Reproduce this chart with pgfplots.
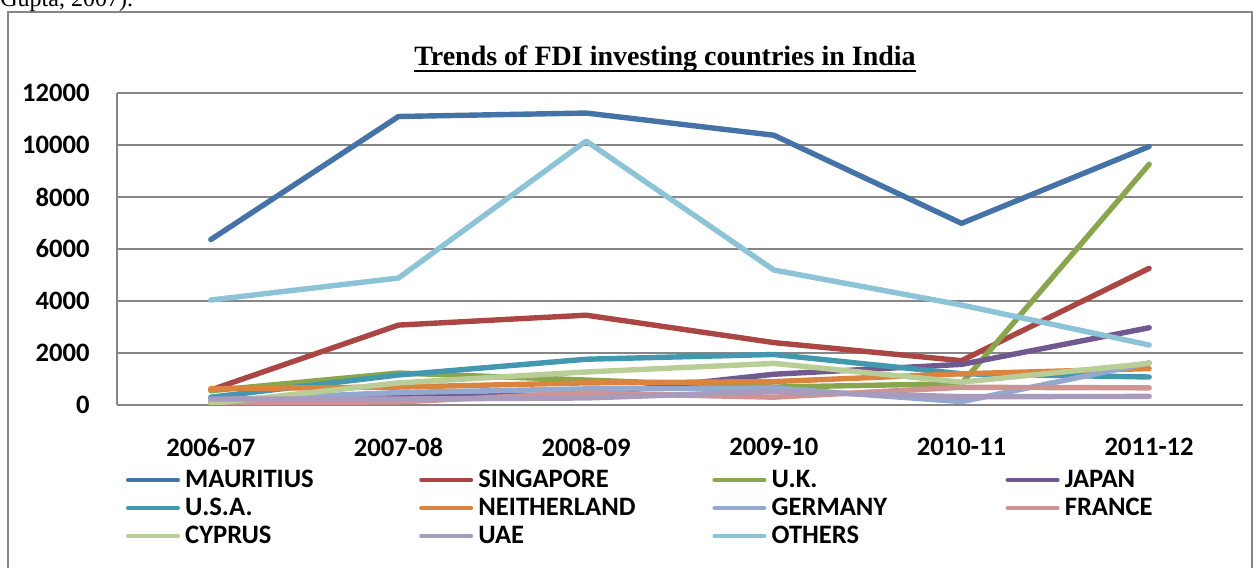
\documentclass[border=0pt]{standalone}
\usepackage{fontspec}
\setmainfont{Carlito}
\newfontfamily\timesfont{Liberation Serif}
\usepackage{pgfplots}
\usepackage{pgfplotstable}
\pgfplotsset{compat=1.18}
\definecolor{cmau}{RGB}{69,114,167}
\definecolor{csin}{RGB}{170,70,67}
\definecolor{cuk}{RGB}{137,165,78}
\definecolor{cjap}{RGB}{113,88,143}
\definecolor{cusa}{RGB}{65,152,175}
\definecolor{cnet}{RGB}{219,132,61}
\definecolor{cger}{RGB}{147,169,207}
\definecolor{cfra}{RGB}{209,147,146}
\definecolor{ccyp}{RGB}{185,205,150}
\definecolor{cuae}{RGB}{169,155,189}
\definecolor{coth}{RGB}{140,195,215}
\definecolor{framegray}{RGB}{134,134,134}
\pgfplotstableread{
x mau sin uk jap usa net ger fra cyp uae oth
0 6363 578 550 85 300 630 180 80 60 230 4038
1 11096 3073 1230 300 1154 690 480 120 850 230 4884
2 11229 3454 960 400 1760 850 620 460 1270 270 10153
3 10376 2400 690 1183 1943 900 650 300 1600 520 5192
4 6987 1705 820 1562 1200 1200 130 680 880 320 3846
5 9942 5257 9257 2972 1077 1400 1620 660 1600 330 2308
}\data
\newcommand{\legtxt}[1]{\makebox[117pt][l]{#1}}
\begin{document}
\begin{tikzpicture}
\useasboundingbox (0pt,0pt) rectangle (628.5pt,283.5pt);
\draw[line width=1pt, color=framegray] (4pt,-2pt) -- (4pt,277.5pt) -- (626pt,277.5pt) -- (626pt,-2pt);
\node[anchor=base west, inner sep=0pt, font=\timesfont\fontsize{12}{14}\selectfont] at (0pt,280pt) {Gupta, 2007).};
\node[anchor=base, inner sep=0pt, font=\timesfont\bfseries\fontsize{14}{16}\selectfont] (t) at (332.5pt,250.5pt) {Trends of FDI investing countries in India};
\draw[line width=1pt] ([yshift=-2.5pt]t.base west) -- ([yshift=-2.5pt]t.base east);
\begin{axis}[
  at={(58.5pt,81pt)}, anchor=south west, scale only axis,
  width=563pt, height=156pt,
  xmin=-0.5, xmax=5.5, ymin=0, ymax=12000,
  xtick={0,1,2,3,4,5},
  xticklabels={2006-07,2007-08,2008-09,2009-10,2010-11,2011-12},
  ytick={0,2000,4000,6000,8000,10000,12000},
  scaled y ticks=false,
  ymajorgrids, grid style={line width=1pt, color=framegray},
  axis x line*=bottom, axis y line*=left,
  axis line style={line width=1pt, color=framegray},
  major tick length=0pt,
  ticklabel style={font=\bfseries\fontsize{13.3}{15}\selectfont},
  yticklabel style={inner sep=0pt, xshift=-13.5pt},
  xticklabel style={inner sep=0pt, yshift=-16.5pt},
  /pgf/number format/.cd, 1000 sep={}, assume math mode=true, /pgfplots/.cd,
  legend columns=4,
  legend cell align=left,
  legend style={draw=none, fill=none, inner sep=0pt, outer sep=0pt,
    at={(axis description cs:0.0080,-0.2019)}, anchor=north west,
    row sep=2pt, font=\bfseries\fontsize{13.3}{15}\selectfont,
    nodes={inner sep=0pt, text height=10pt, text depth=2pt},
    /tikz/every odd column/.append style={column sep=2.6pt}},
  legend image code/.code={\draw[#1, line width=2pt, line cap=round] (1pt,0pt) -- (26pt,0pt);},
  every axis plot/.append style={line width=2.7pt, line cap=round, line join=round, mark=none},
]
\addplot[color=cmau] table[x=x,y=mau]{\data}; \addlegendentry{\legtxt{MAURITIUS}}
\addplot[color=csin] table[x=x,y=sin]{\data}; \addlegendentry{\legtxt{SINGAPORE}}
\addplot[color=cuk] table[x=x,y=uk]{\data}; \addlegendentry{\legtxt{U.K.}}
\addplot[color=cjap] table[x=x,y=jap]{\data}; \addlegendentry{JAPAN}
\addplot[color=cusa] table[x=x,y=usa]{\data}; \addlegendentry{\legtxt{U.S.A.}}
\addplot[color=cnet] table[x=x,y=net]{\data}; \addlegendentry{\legtxt{NEITHERLAND}}
\addplot[color=cger] table[x=x,y=ger]{\data}; \addlegendentry{\legtxt{GERMANY}}
\addplot[color=cfra] table[x=x,y=fra]{\data}; \addlegendentry{FRANCE}
\addplot[color=ccyp] table[x=x,y=cyp]{\data}; \addlegendentry{\legtxt{CYPRUS}}
\addplot[color=cuae] table[x=x,y=uae]{\data}; \addlegendentry{\legtxt{UAE}}
\addplot[color=coth] table[x=x,y=oth]{\data}; \addlegendentry{\legtxt{OTHERS}}
\end{axis}
\end{tikzpicture}
\end{document}
